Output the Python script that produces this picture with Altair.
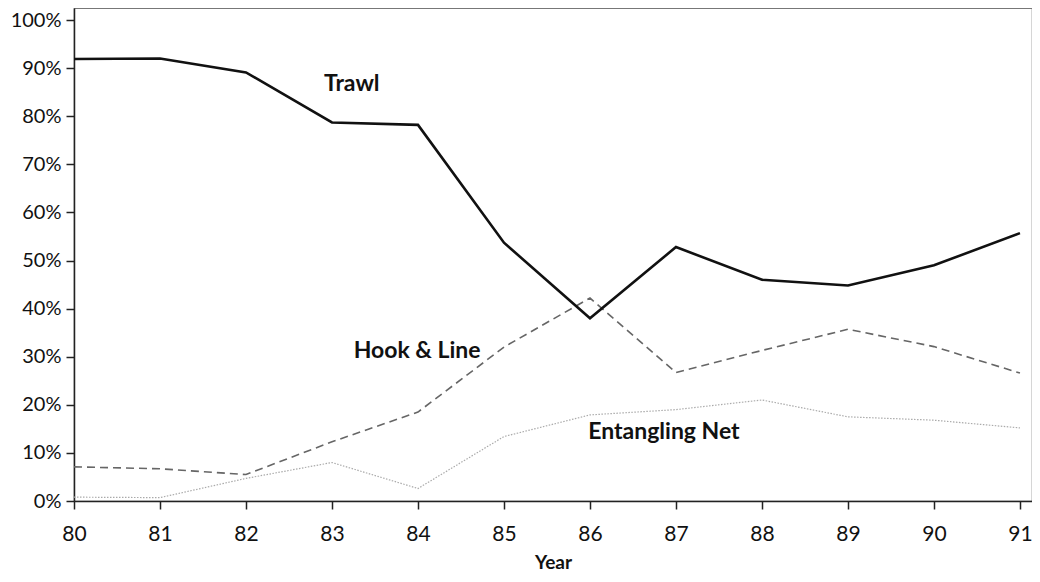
import altair as alt
import pandas as pd

years = [80, 81, 82, 83, 84, 85, 86, 87, 88, 89, 90, 91]
trawl = [0.919, 0.920, 0.891, 0.787, 0.782, 0.537, 0.380, 0.528, 0.460, 0.448, 0.490, 0.557]
hook_line = [0.071, 0.067, 0.055, 0.123, 0.185, 0.320, 0.422, 0.267, 0.313, 0.357, 0.321, 0.266]
entangling = [0.008, 0.007, 0.047, 0.080, 0.026, 0.134, 0.179, 0.190, 0.210, 0.175, 0.168, 0.152]

label_text = ["Trawl", "Hook & Line", "Entangling Net"]
label_x = [83.23, 83.99, 86.86]
label_y = [0.868, 0.311, 0.144]

y_ticks = [i / 10 for i in range(11)]

FONT = "Lato"

rows = []
for name, vals in [("Trawl", trawl), ("Hook & Line", hook_line), ("Entangling Net", entangling)]:
    for yr, v in zip(years, vals):
        rows.append({"Year": yr, "share": v, "gear": name})
df = pd.DataFrame(rows)
labels = pd.DataFrame({"text": label_text, "x": label_x, "y": label_y})

xs = alt.Scale(domain=[80, 91.14], nice=False, zero=False)
ys = alt.Scale(domain=[0, 1.025], nice=False)

xaxis = alt.Axis(values=years, format="d", title="Year", grid=False, labelFlush=False,
                 tickSize=8, labelPadding=14, labelFontSize=21, labelFont=FONT,
                 labelColor="#111", titleFont=FONT, titleFontSize=19, titleFontWeight="bold",
                 titleColor="#111", titlePadding=9, domainColor="#222", tickColor="#222",
                 domainWidth=1.5, tickWidth=1.5)
yaxis = alt.Axis(values=y_ticks, format=".0%", title=None, grid=False,
                 tickSize=8, labelPadding=5, labelFontSize=20, labelFont=FONT,
                 labelColor="#111", domainColor="#222", tickColor="#222",
                 domainWidth=1.5, tickWidth=1.5)

def line(name, color, width, dash):
    kw = dict(color=color, strokeWidth=width)
    if dash:
        kw["strokeDash"] = dash
    return alt.Chart(df).transform_filter(alt.datum.gear == name).mark_line(**kw).encode(
        x=alt.X("Year:Q", scale=xs, axis=xaxis),
        y=alt.Y("share:Q", scale=ys, axis=yaxis),
    )

trawl_l = line("Trawl", "#111", 2.6, None)
hook_l = line("Hook & Line", "#666", 1.6, [8, 5])
ent_l = line("Entangling Net", "#aaa", 1.2, [1.5, 1.5])

text = alt.Chart(labels).mark_text(font=FONT, fontSize=23, fontWeight="bold", color="#111").encode(
    x=alt.X("x:Q", scale=xs),
    y=alt.Y("y:Q", scale=ys),
    text="text:N",
)

chart = alt.layer(ent_l, hook_l, trawl_l, text).properties(
    width=958, height=493,
    autosize=alt.AutoSizeParams(type="none"),
    padding={"left": 66, "top": 0, "right": 0, "bottom": 73},
    background="white",
).configure_view(stroke="#777", strokeWidth=1.2)

chart.save("out.html", embed_options={"renderer": "svg", "actions": False})
